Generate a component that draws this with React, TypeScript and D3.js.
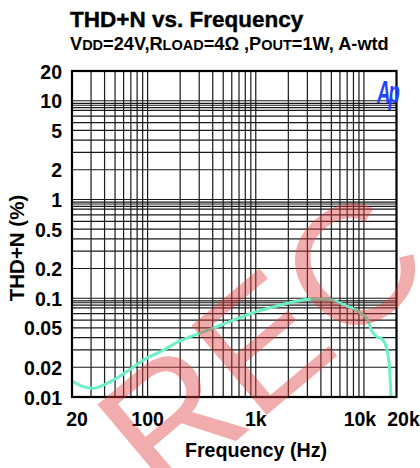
import React from 'react';
import * as d3 from 'd3';

// ---- data ----
const freqHz = [20, 25, 31.7, 39, 48.6, 64, 92, 131, 200, 300, 440, 650, 900, 1200, 1700, 2250, 3200, 4600, 6600, 9400, 10900, 11700, 12900, 15000, 16200, 17300, 17800];
const thdPct = [0.0145, 0.0128, 0.0122, 0.0132, 0.0149, 0.018, 0.0237, 0.0287, 0.037, 0.044, 0.0516, 0.061, 0.07, 0.077, 0.0853, 0.0923, 0.0977, 0.0977, 0.0853, 0.0703, 0.0603, 0.0476, 0.0415, 0.0378, 0.031, 0.0188, 0.0101];

const xTickValues = [20, 100, 1000, 10000, 20000];
const xTickLabels = ['20', '100', '1k', '10k', '20k'];
const yTickValues = [20, 10, 5, 2, 1, 0.5, 0.2, 0.1, 0.05, 0.02, 0.01];
const yTickLabels = ['20', '10', '5', '2', '1', '0.5', '0.2', '0.1', '0.05', '0.02', '0.01'];

const xGridDecades = [10, 100, 1000];
const xGridMantissas = [2, 3, 4, 5, 6, 7, 8, 9, 10];
const yGridDecades = [0.01, 0.1, 1];
const yGridMantissas = [2, 3, 4, 5, 6, 7, 8, 8.5, 9, 9.4, 10];

const title = 'THD+N vs. Frequency';
const xTitle = 'Frequency (Hz)';
const yTitle = 'THD+N (%)';
const watermark = 'REC';

const FONT = '"Liberation Sans", Arial, Helvetica, sans-serif';

export default function App() {
  const W = 420, H = 468;
  const x = d3.scaleLog().domain([20, 20000]).range([72, 396.5]);
  const y = d3.scaleLog().domain([0.01, 20]).range([397, 71]);
  const [x0, x1] = x.range();
  const [y0, y1] = y.range();

  const xGrid = xGridDecades.flatMap(d => xGridMantissas.map(m => m * d)).filter(v => v > 20 && v < 20000);
  const yGrid = yGridDecades.flatMap(d => yGridMantissas.map(m => m * d)).filter(v => v > 0.01 && v < 20);

  const line = d3.line<number>()
    .x((_, i) => x(freqHz[i]))
    .y(d => y(d))
    .curve(d3.curveMonotoneX);

  const xLabelDx = (i: number) => (i === 0 ? 5 : i === xTickValues.length - 1 ? 7 : i === 3 ? -4 : 0);

  const ang = -40;

  return (
    <svg width={W} height={H} style={{ position: 'absolute', left: 0, top: 0, background: '#fff' }} fontFamily={FONT}>
      <rect x={0} y={0} width={W} height={H} fill="#fff" />
      <text x={70} y={26.5} fontSize={22.5} fontWeight="bold" fill="#000" stroke="#000" strokeWidth={0.4}>{title}</text>
      <text x={70} y={50} fontSize={18.2} fontWeight="bold" fill="#000">
        <tspan>V</tspan><tspan fontSize={14.5}>DD</tspan><tspan>=24V,R</tspan><tspan fontSize={14.5}>LOAD</tspan><tspan>=4Ω ,P</tspan><tspan fontSize={14.5}>OUT</tspan><tspan>=1W, A-wtd</tspan>
      </text>

      {/* grid */}
      <g stroke="#1a1a1a" strokeWidth={1.2}>
        {xGrid.map(v => (
          <line key={'gx' + v} x1={x(v)} x2={x(v)} y1={y1} y2={y0} />
        ))}
        {yGrid.map(v => (
          <line key={'gy' + v} x1={x0} x2={x1} y1={y(v)} y2={y(v)} />
        ))}
      </g>

      {/* curve */}
      <path d={line(thdPct) || ''} fill="none" stroke="#6ef0c6" strokeWidth={3} strokeLinejoin="round" />

      {/* frame */}
      <rect x={x0} y={y1} width={x1 - x0} height={y0 - y1} fill="none" stroke="#000" strokeWidth={2.2} />

      {/* logo */}
      <text transform="translate(377,103) scale(0.62,1.05)" fontSize={30} fontWeight="bold" fontStyle="italic" fill="#2244ff" letterSpacing={-3}>Ap</text>

      {/* y tick labels */}
      {yTickValues.map((v, i) => (
        <text key={'yt' + v} x={62} y={y(v) + 7.5} fontSize={19.5} fontWeight="bold" textAnchor="end" fill="#000">{yTickLabels[i]}</text>
      ))}
      {/* x tick labels */}
      {xTickValues.map((v, i) => (
        <text key={'xt' + v} x={x(v) + xLabelDx(i)} y={426} fontSize={19.5} fontWeight="bold" textAnchor="middle" fill="#000">{xTickLabels[i]}</text>
      ))}

      <text x={256} y={457} fontSize={19.7} fontWeight="bold" textAnchor="middle" fill="#000">{xTitle}</text>
      <text transform={`translate(24,248) rotate(-90)`} fontSize={20.5} fontWeight="bold" textAnchor="middle" fill="#000">{yTitle}</text>

      {/* watermark */}
      <text transform={`translate(162,503) rotate(${ang})`} fontSize={170} fill="#dd3b3b" fillOpacity={0.42}>{watermark}</text>
    </svg>
  );
}
